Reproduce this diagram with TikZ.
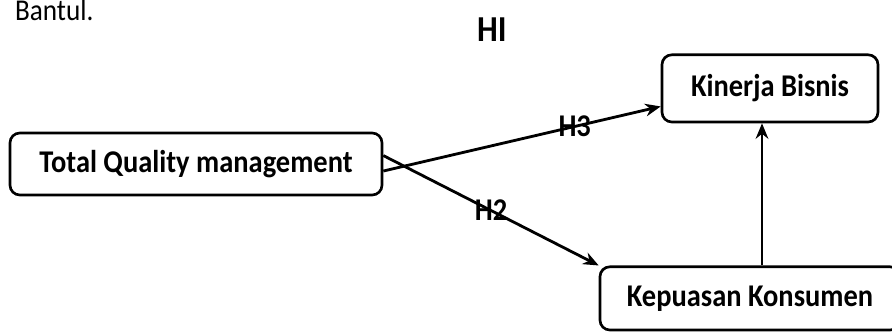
\documentclass[tikz,border=0pt]{standalone}
\usepackage{fontspec}
\setmainfont{Carlito}[FakeStretch=0.9]
\usepackage{tikz}
\usetikzlibrary{positioning, arrows.meta}

\begin{document}
\begin{tikzpicture}[
    every node/.style={align=center},
    block_var/.style={
        rectangle,
        draw,
        line width=1.9pt,
        rounded corners=7pt,
        inner sep=0pt,
        font=\fontsize{22.5}{26}\selectfont\bfseries
    },
    hyp/.style={
        font=\fontsize{22.5}{26}\selectfont\bfseries,
        inner sep=1pt
    },
    arrow/.style = {draw, -{Stealth[length=11pt,width=9pt]}, line width=2pt}
]
    \useasboundingbox (0,0) rectangle (22.3,-8.35);
    \clip (0,0) rectangle (22.3,-8.35);
    % 定义节点
    \node [anchor=base west, font=\fontsize{21.5}{24}\selectfont, inner sep=0pt] (bantul) at (0.37,-0.52) {Bantul.};
    \node [hyp, font=\fontsize{26}{28}\selectfont\bfseries] (h1) at (12.3,-0.73) {HI};
    \node [block_var, minimum width=9.3cm, minimum height=1.55cm] (tqm) at (4.9,-4.1) {Total Quality management};
    \node [block_var, minimum width=7.5cm, minimum height=1.58cm] (kepuasan) at (18.75,-7.46) {Kepuasan Konsumen};
    \node [block_var, minimum width=5.4cm, minimum height=1.68cm] (kinerja) at (19.25,-2.21) {Kinerja Bisnis};
    \coordinate (vline) at (19.05,0);
    % 画箭头
    \draw [arrow] ([yshift=-5pt]tqm.east) -- node[hyp, pos=0.69] (h3) {H3} ([yshift=12pt]kinerja.south west);
    \draw [arrow] ([yshift=6pt]tqm.east) -- node[hyp, pos=0.5] (h2) {H2} (kepuasan.north west);
    \draw [arrow] (kepuasan.north -| vline) -- (kinerja.south -| vline);
\end{tikzpicture}
\end{document}
